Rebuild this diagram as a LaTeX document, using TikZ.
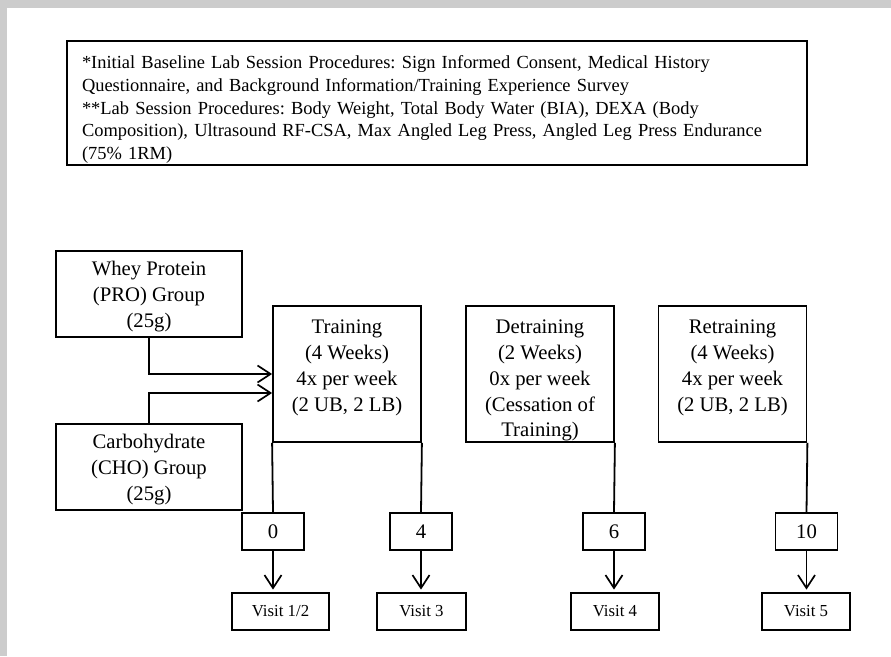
\documentclass[tikz,border=0pt]{standalone}
\usepackage{fontspec}
\setmainfont{Liberation Serif}
\usetikzlibrary{arrows.meta}
\definecolor{bggray}{RGB}{204,204,204}
\frenchspacing
\begin{document}
\begin{tikzpicture}[x=1pt,y=-1pt,
  box/.style={draw, line width=1.8pt, inner sep=0pt},
  maintxt/.style={font=\fontsize{20.7}{25.7}\selectfont, align=center, inner sep=0pt},
  grptxt/.style={font=\fontsize{20.7}{26}\selectfont, align=center, inner sep=0pt},
  grpbox/.style={box, minimum width=186pt, minimum height=86pt},
  stagebox/.style={box, minimum width=148pt, minimum height=136pt},
  numbox/.style={box, minimum width=62pt, minimum height=37pt, font=\fontsize{20.7}{24}\selectfont},
  visitbox/.style={box, minimum height=37pt, font=\fontsize{16.8}{20}\selectfont},
  conn/.style={line width=1.8pt},
  arr/.style={conn, -{Straight Barb[length=13pt,width=17pt,line width=1.7pt]}}]
\fill[bggray] (0,0) rectangle (891,656);
\fill[white] (7,8) rectangle (891,656);
\useasboundingbox (0,0) rectangle (891,656);

\node[box, minimum width=740pt, minimum height=124pt] (notes) at (437,103) {};
\node[text width=710pt, inner sep=0pt, align=left,
  font=\fontsize{18.45}{22.7}\selectfont] (notestxt) at (437,109.5)
  {*Initial Baseline Lab Session Procedures: Sign Informed Consent, Medical History\\{}
   Questionnaire, and Background Information/Training Experience Survey\\{}
   **Lab Session Procedures: Body Weight, Total Body Water (BIA), DEXA (Body\\{}
   Composition), Ultrasound RF-CSA, Max Angled Leg Press, Angled Leg Press Endurance\\{}
   (75\% 1RM)};

\node[grpbox] (pro) at (149,294) {};
\node[grptxt] (protxt) at (149,297) {Whey Protein\\(PRO) Group\\(25g)};
\node[grpbox] (cho) at (149,467) {};
\node[grptxt] (chotxt) at (149,470) {Carbohydrate\\(CHO) Group\\(25g)};

\node[stagebox] (train) at (347,374) {};
\node[maintxt, anchor=north] (traintxt) at (347,320) {Training\\(4 Weeks)\\4x per week\\(2 UB, 2 LB)};
\node[stagebox] (detrain) at (540,374) {};
\node[maintxt, anchor=north] (detraintxt) at (540,320) {Detraining\\(2 Weeks)\\0x per week\\(Cessation of\\Training)};
\node[stagebox] (retrain) at (732.5,374) {};
\node[maintxt, anchor=north] (retraintxt) at (732.5,320) {Retraining\\(4 Weeks)\\4x per week\\(2 UB, 2 LB)};

\node[numbox] (n0) at (273,531.5) {0};
\node[numbox] (n4) at (421,531.5) {4};
\node[numbox] (n6) at (614,531.5) {6};
\node[numbox] (n10) at (806.5,531.5) {10};

\node[visitbox, minimum width=97pt] (v12) at (280.5,611.5) {Visit 1/2};
\node[visitbox, minimum width=89pt] (v3) at (421.5,611.5) {Visit 3};
\node[visitbox, minimum width=88pt] (v4) at (615,611.5) {Visit 4};
\node[visitbox, minimum width=88pt] (v5) at (806,611.5) {Visit 5};

\draw[arr] (pro.south) |- (train.west);
\draw[arr] (cho.north) |- ([yshift=-19pt]train.west);

\draw[conn] (train.south west) -- (n0.north);
\draw[conn] (train.south east) -- (n4.north);
\draw[conn] (detrain.south east) -- (n6.north);
\draw[conn] (retrain.south east) -- (n10.north);

\draw[arr, shorten >=2.5pt] (n0.south) -- (n0.south |- v12.north);
\draw[arr, shorten >=2.5pt] (n4.south) -- (n4.south |- v3.north);
\draw[arr, shorten >=2.5pt] (n6.south) -- (n6.south |- v4.north);
\draw[arr, shorten >=2.5pt] (n10.south) -- (n10.south |- v5.north);
\end{tikzpicture}
\end{document}
